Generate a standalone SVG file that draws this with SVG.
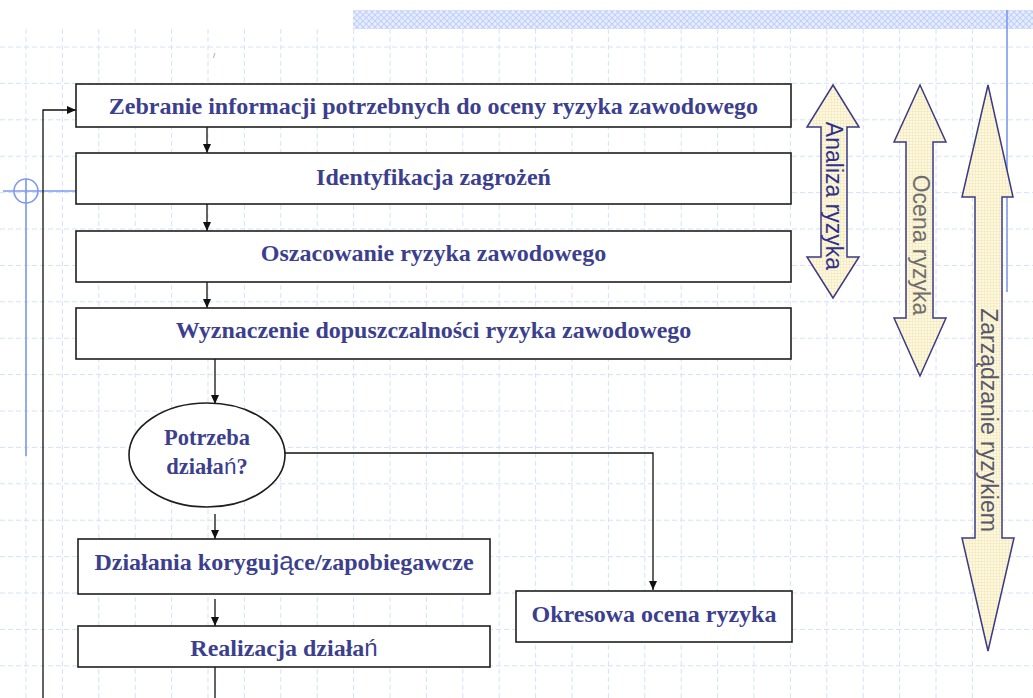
<svg xmlns="http://www.w3.org/2000/svg" width="1033" height="698" viewBox="0 0 1033 698">
<style>
.grid{fill:none;stroke:#d6e0f9;stroke-width:1;stroke-dasharray:5 3}
.box{fill:#ffffff;stroke:#1e1e1e;stroke-width:1.6}
.lbl{font-family:"Liberation Serif","Times New Roman",serif;font-weight:bold;font-size:24px;fill:#3c3f8e;text-anchor:middle}
.ell{font-size:22.5px}
.sans{font-family:"Liberation Sans",Arial,sans-serif;font-weight:normal}
.conn{fill:none;stroke:#111111;stroke-width:1.3}
.big{fill:url(#yel);stroke:#3b3b85;stroke-width:1.5;stroke-linejoin:miter}
.vt{font-family:"Liberation Sans",Arial,sans-serif;font-size:23px;text-anchor:middle}
.guide{fill:none;stroke:#7c98ee;stroke-width:1.6}
</style>
<defs>
<pattern id="hatch" width="6" height="6" patternUnits="userSpaceOnUse">
<rect width="6" height="6" fill="#e8eefd"/>
<path d="M0,0 L6,6 M6,0 L0,6" stroke="#bfd0f8" stroke-width="1.1"/>
</pattern>
<pattern id="yel" width="3" height="3" patternUnits="userSpaceOnUse">
<rect width="3" height="3" fill="#fdf8e2"/>
<path d="M0,0.5 H3 M0.5,0 V3" stroke="#f3e6b4" stroke-width="0.6"/>
</pattern>
<marker id="ah" markerUnits="userSpaceOnUse" markerWidth="10" markerHeight="9" refX="9" refY="4" orient="auto">
<path d="M0,0 L9,4 L0,8 z" fill="#111111"/>
</marker>
</defs>
<rect width="1033" height="698" fill="#ffffff"/>
<g id="grid">
<path class="grid" d="M26,29V698 M62.4,29V698 M98.8,29V698 M135.2,29V698 M171.6,29V698 M208,29V698 M244.4,29V698 M280.8,29V698 M317.2,29V698 M353.6,29V698 M390,29V698 M426.4,29V698 M462.8,29V698 M499.2,29V698 M535.6,29V698 M572,29V698 M608.4,29V698 M644.8,29V698 M681.2,29V698 M717.6,29V698 M754,29V698 M790.4,29V698 M826.8,29V698 M863.2,29V698 M899.6,29V698 M936,29V698 M972.4,29V698"/>
<path class="grid" d="M0,47H1033 M0,83.4H1033 M0,119.8H1033 M0,156.2H1033 M0,192.6H1033 M0,229H1033 M0,265.4H1033 M0,301.8H1033 M0,338.2H1033 M0,374.6H1033 M0,411H1033 M0,447.4H1033 M0,483.8H1033 M0,520.2H1033 M0,556.6H1033 M0,593H1033 M0,629.4H1033 M0,665.8H1033"/>
</g>
<g id="band">
<rect x="353" y="10" width="680" height="19" fill="url(#hatch)"/>
<line class="guide" x1="1007" y1="10" x2="1007" y2="292"/>
</g>
<g id="crosshair">
<circle class="guide" cx="26" cy="191" r="12"/>
<line class="guide" x1="3" y1="191" x2="76" y2="191"/>
<line class="guide" x1="26" y1="179" x2="26" y2="456"/>
</g>
<text x="213" y="58" font-family="Liberation Sans,Arial,sans-serif" font-size="8" fill="#888888">/</text>
<g id="connectors">
<path class="conn" d="M207,127V153" marker-end="url(#ah)"/>
<path class="conn" d="M207,204V231" marker-end="url(#ah)"/>
<path class="conn" d="M207,282V308" marker-end="url(#ah)"/>
<path class="conn" d="M215,359V404" marker-end="url(#ah)"/>
<path class="conn" d="M285,453H653V590" marker-end="url(#ah)"/>
<path class="conn" d="M215,514V539" marker-end="url(#ah)"/>
<path class="conn" d="M215,599V626" marker-end="url(#ah)"/>
<path class="conn" d="M215,667V712H43V110H76" marker-end="url(#ah)"/>
</g>
<g id="n1"><rect class="box" x="76" y="84" width="715" height="43"/><text class="lbl" x="433.5" y="114">Zebranie informacji potrzebnych do oceny ryzyka zawodowego</text></g>
<g id="n2"><rect class="box" x="76" y="153" width="715" height="51"/><text class="lbl" x="433.5" y="185">Identyfikacja zagrożeń</text></g>
<g id="n3"><rect class="box" x="76" y="231" width="715" height="51"/><text class="lbl" x="433.5" y="261">Oszacowanie ryzyka zawodowego</text></g>
<g id="n4"><rect class="box" x="76" y="308" width="715" height="51"/><text class="lbl" x="433.5" y="338">Wyznaczenie dopuszczalności ryzyka zawodowego</text></g>
<g id="n5"><ellipse class="box" cx="207" cy="455" rx="78" ry="52"/><text class="lbl ell" x="207" y="445">Potrzeba</text><text class="lbl ell" x="207" y="474">działa<tspan class="sans">ń</tspan>?</text></g>
<g id="n6"><rect class="box" x="78" y="539" width="412" height="55"/><text class="lbl" x="284" y="570">Działania koryguj<tspan class="sans" font-size="26">ą</tspan>ce/zapobiegawcze</text></g>
<g id="n7"><rect class="box" x="78" y="626" width="412" height="41"/><text class="lbl" x="284" y="656">Realizacja działa<tspan class="sans">ń</tspan></text></g>
<g id="n8"><rect class="box" x="516" y="591" width="276" height="51"/><text class="lbl" x="654" y="622">Okresowa ocena ryzyka</text></g>
<g id="a1"><polygon class="big" points="833,85 859,127 847,127 847,257 859,257 833,298 807,257 821,257 821,127 807,127"/><text class="vt" fill="#2e318f" transform="translate(826,196) rotate(90)">Analiza ryzyka</text></g>
<g id="a2"><polygon class="big" points="920,85 946,142 933,142 933,318 946,318 920,376 894,318 906,318 906,142 894,142"/><text class="vt" fill="#6e6e6e" transform="translate(913,245) rotate(90)">Ocena ryzyka</text></g>
<g id="a3"><polygon class="big" points="988,85 1013,197 1002,197 1002,538 1014,538 988,651 962,538 975,538 975,197 962,197"/><text class="vt" fill="#58586c" transform="translate(981,420) rotate(90)">Zarządzanie ryzykiem</text></g>
</svg>
